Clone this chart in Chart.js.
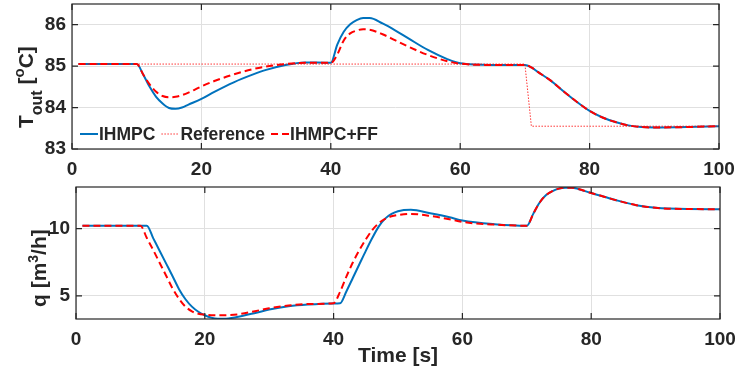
<!DOCTYPE html>
<html>
<head>
<meta charset="utf-8">
<script src="https://cdn.jsdelivr.net/npm/chart.js@4.4.1/dist/chart.umd.min.js"></script>
<style>
  body { margin: 0; background: #fff; }
  #wrap { position: relative; width: 735px; height: 374px; }
  #wrap canvas { position: absolute; left: 0; }
</style>
</head>
<body>
<div id="wrap">
  <canvas id="tempChart" width="735" height="182" style="top:0"></canvas>
  <canvas id="flowChart" width="735" height="192" style="top:182px"></canvas>
</div>
<script>
// outlet temperature (top plot)
const tempTime = [1, 10, 11, 12, 13, 14, 15, 16, 17, 18, 20, 22, 25, 28, 30, 33, 36, 40, 41, 42, 43, 44, 45, 46, 48, 50, 52, 55, 58, 60, 65, 70, 71, 72, 74, 76, 78, 80, 82, 84, 86, 88, 90, 95, 100];
const tempIhmpc = [85.05, 85.05, 84.8, 84.5, 84.26, 84.1, 83.99, 83.97, 84.0, 84.07, 84.21, 84.38, 84.61, 84.8, 84.91, 85.03, 85.09, 85.08, 85.52, 85.83, 86.01, 86.11, 86.16, 86.16, 86.03, 85.86, 85.67, 85.39, 85.17, 85.07, 85.03, 85.03, 84.97, 84.86, 84.65, 84.39, 84.14, 83.92, 83.76, 83.65, 83.57, 83.53, 83.52, 83.53, 83.55];
const tempIhmpcFF = [85.05, 85.05, 84.8, 84.56, 84.38, 84.28, 84.25, 84.26, 84.3, 84.36, 84.51, 84.64, 84.8, 84.93, 84.99, 85.05, 85.08, 85.08, 85.28, 85.62, 85.79, 85.86, 85.89, 85.88, 85.77, 85.62, 85.47, 85.27, 85.12, 85.06, 85.03, 85.03, 84.97, 84.86, 84.65, 84.39, 84.14, 83.92, 83.76, 83.65, 83.57, 83.53, 83.52, 83.53, 83.55];
const refTime = [1, 70, 71, 100];
const tempRef = [85.05, 85.05, 83.55, 83.55];

// flow q (bottom plot)
const flowTime = [1, 10, 11, 12, 13, 14, 15, 16, 17, 18, 19, 20, 21, 22, 23, 25, 28, 30, 33, 36, 40, 41, 42, 43, 44, 45, 46, 47, 48, 49, 50, 52, 55, 58, 60, 65, 70, 71, 72, 73, 74, 75, 76, 77, 78, 80, 82, 84, 87, 90, 95, 100];
const flowIhmpc = [10.22, 10.22, 10.22, 9.28, 8.34, 7.4, 6.46, 5.5, 4.75, 4.2, 3.82, 3.56, 3.38, 3.3, 3.3, 3.43, 3.75, 3.98, 4.22, 4.35, 4.43, 4.45, 5.35, 6.35, 7.35, 8.35, 9.3, 10.15, 10.75, 11.1, 11.3, 11.4, 11.15, 10.85, 10.6, 10.33, 10.22, 11.1, 11.95, 12.5, 12.8, 12.98, 13.05, 13.05, 12.95, 12.65, 12.38, 12.1, 11.75, 11.55, 11.46, 11.45];
const flowIhmpcFF = [10.22, 10.22, 9.3, 8.4, 7.45, 6.5, 5.55, 4.78, 4.2, 3.85, 3.67, 3.6, 3.56, 3.55, 3.56, 3.62, 3.88, 4.08, 4.28, 4.4, 4.46, 5.3, 6.45, 7.5, 8.4, 9.2, 9.9, 10.4, 10.72, 10.92, 11.02, 11.1, 10.95, 10.7, 10.5, 10.3, 10.22, 11.1, 11.95, 12.5, 12.8, 12.98, 13.05, 13.05, 12.95, 12.65, 12.38, 12.1, 11.75, 11.55, 11.46, 11.45];

const timeTicks = [0, 20, 40, 60, 80, 100];
const tempTicks = [83, 84, 85, 86];
const flowTicks = [5, 10];

const BLUE = '#0072BD';
const RED = '#FF0000';
const AXIS = '#262626';
const FAMILY = '"Liberation Sans", Arial, sans-serif';
const tickFont = { family: FAMILY, size: 19, weight: 'bold' };

function pts(xs, ys) {
  return xs.map((x, i) => ({ x: x, y: ys[i] }));
}

// y label with sub/superscripts, written bottom to top
function drawRotated(ctx, parts, baseX, startY) {
  ctx.save();
  ctx.translate(baseX, startY);
  ctx.rotate(-Math.PI / 2);
  ctx.fillStyle = AXIS;
  ctx.textAlign = 'left';
  ctx.textBaseline = 'alphabetic';
  let x = 0;
  parts.forEach(p => {
    ctx.font = 'bold ' + p.size + 'px ' + FAMILY;
    ctx.fillText(p.text, x, p.shift);
    x += ctx.measureText(p.text).width;
  });
  ctx.restore();
}

const matlabAxes = {
  id: 'matlabAxes',
  afterDatasetsDraw(chart, args, opts) {
    const ctx = chart.ctx;
    const a = chart.chartArea;
    const sx = chart.scales.x, sy = chart.scales.y;
    ctx.save();
    ctx.strokeStyle = AXIS;
    ctx.lineWidth = 1.2;
    ctx.strokeRect(a.left, a.top, a.right - a.left, a.bottom - a.top);
    ctx.beginPath();
    const len = 6;
    sx.ticks.forEach(t => {
      const px = sx.getPixelForValue(t.value);
      ctx.moveTo(px, a.bottom); ctx.lineTo(px, a.bottom - len);
      ctx.moveTo(px, a.top); ctx.lineTo(px, a.top + len);
    });
    sy.ticks.forEach(t => {
      const py = sy.getPixelForValue(t.value);
      ctx.moveTo(a.left, py); ctx.lineTo(a.left + len, py);
      ctx.moveTo(a.right, py); ctx.lineTo(a.right - len, py);
    });
    ctx.stroke();

    if (opts.legend) {
      let x = opts.legend.x;
      const y = opts.legend.y;
      ctx.font = 'bold 17.5px ' + FAMILY;
      ctx.textBaseline = 'middle';
      ctx.fillStyle = AXIS;
      chart.data.datasets.forEach(ds => {
        ctx.beginPath();
        ctx.strokeStyle = ds.borderColor;
        ctx.lineWidth = ds.borderWidth;
        ctx.setLineDash(ds.borderDash || []);
        ctx.moveTo(x, y); ctx.lineTo(x + 18, y);
        ctx.stroke();
        ctx.setLineDash([]);
        x += 19;
        ctx.fillText(ds.label, x, y + 1);
        x += ctx.measureText(ds.label).width + 6;
      });
    }
    if (opts.yLabel) {
      drawRotated(ctx, opts.yLabel.parts, opts.yLabel.x, opts.yLabel.y);
    }
    if (opts.xLabel) {
      ctx.font = 'bold 21px ' + FAMILY;
      ctx.fillStyle = AXIS;
      ctx.textAlign = 'center';
      ctx.textBaseline = 'alphabetic';
      ctx.fillText(opts.xLabel.text, (a.left + a.right) / 2, opts.xLabel.y);
    }
    ctx.restore();
  }
};

function noOverflow(s) {
  s.paddingLeft = 0; s.paddingRight = 0; s.paddingTop = 0; s.paddingBottom = 0;
}

function axesOptions(yMin, yMax, yTicks, yWidth, xHeight) {
  return {
    x: {
      type: 'linear', min: 0, max: 100,
      afterBuildTicks: s => { s.ticks = timeTicks.map(v => ({ value: v })); },
      afterFit: s => { s.height = xHeight; noOverflow(s); },
      grid: { color: '#e0e0e0', lineWidth: 1, drawTicks: false },
      border: { display: false },
      ticks: { font: tickFont, color: AXIS, padding: 9, maxRotation: 0, autoSkip: false }
    },
    y: {
      min: yMin, max: yMax,
      afterBuildTicks: s => { s.ticks = yTicks.map(v => ({ value: v })); },
      afterFit: s => { s.width = yWidth; noOverflow(s); },
      grid: { color: '#e0e0e0', lineWidth: 1, drawTicks: false },
      border: { display: false },
      ticks: { font: tickFont, color: AXIS, padding: 6, autoSkip: false }
    }
  };
}

new Chart(document.getElementById('tempChart'), {
  type: 'line',
  data: {
    datasets: [
      { label: 'IHMPC', data: pts(tempTime, tempIhmpc), borderColor: BLUE, borderWidth: 2, order: 3, cubicInterpolationMode: 'monotone' },
      { label: 'Reference', data: pts(refTime, tempRef), borderColor: 'rgba(255,0,0,0.8)', borderWidth: 1, borderDash: [1.5, 1.5], order: 2, tension: 0 },
      { label: 'IHMPC+FF', data: pts(tempTime, tempIhmpcFF), borderColor: RED, borderWidth: 2, borderDash: [7, 4], order: 1, cubicInterpolationMode: 'monotone' }
    ]
  },
  options: {
    responsive: false,
    animation: false,
    devicePixelRatio: 1,
    elements: { point: { radius: 0 } },
    layout: { padding: { left: 0, right: 16, top: 4, bottom: 0 } },
    scales: axesOptions(83, 86.5, tempTicks, 72, 33),
    plugins: {
      legend: { display: false },
      tooltip: { enabled: false },
      matlabAxes: {
        legend: { x: 80, y: 134 },
        yLabel: {
          x: 33, y: 128,
          parts: [
            { text: 'T', size: 21, shift: 0 },
            { text: 'out', size: 16, shift: 9 },
            { text: ' [', size: 21, shift: 0 },
            { text: 'o', size: 15, shift: -9 },
            { text: 'C]', size: 21, shift: 0 }
          ]
        }
      }
    }
  },
  plugins: [matlabAxes]
});

new Chart(document.getElementById('flowChart'), {
  type: 'line',
  data: {
    datasets: [
      { label: 'IHMPC', data: pts(flowTime, flowIhmpc), borderColor: BLUE, borderWidth: 2, order: 2, cubicInterpolationMode: 'monotone' },
      { label: 'IHMPC+FF', data: pts(flowTime, flowIhmpcFF), borderColor: RED, borderWidth: 2, borderDash: [7, 4], order: 1, cubicInterpolationMode: 'monotone' }
    ]
  },
  options: {
    responsive: false,
    animation: false,
    devicePixelRatio: 1,
    elements: { point: { radius: 0 } },
    layout: { padding: { left: 0, right: 15, top: 5, bottom: 0 } },
    scales: axesOptions(3.28, 13.1, flowTicks, 76, 55),
    plugins: {
      legend: { display: false },
      tooltip: { enabled: false },
      matlabAxes: {
        yLabel: {
          x: 46, y: 125,
          parts: [
            { text: 'q [m', size: 21, shift: 0 },
            { text: '3', size: 14, shift: -8 },
            { text: '/h]', size: 21, shift: 0 }
          ]
        },
        xLabel: { text: 'Time [s]', y: 180 }
      }
    }
  },
  plugins: [matlabAxes]
});
</script>
</body>
</html>
